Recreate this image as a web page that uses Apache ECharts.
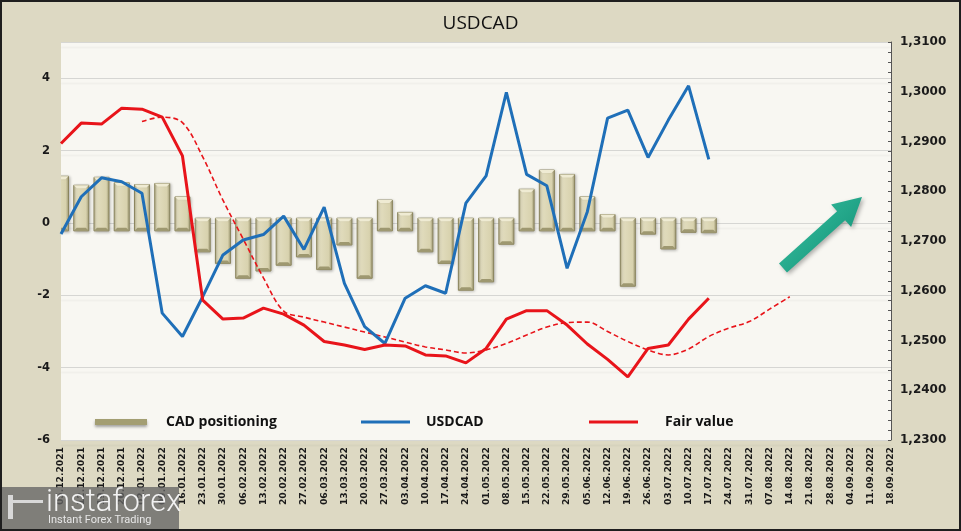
<!DOCTYPE html>
<html><head><meta charset="utf-8">
<script src="https://cdn.jsdelivr.net/npm/echarts@6/dist/echarts.min.js"></script>
<style>html,body{margin:0;padding:0;background:#ddd9c3;}#c{width:961px;height:531px;}</style>
</head><body><div id="c"></div>
<script>
const categories = ['05.12.2021','12.12.2021','19.12.2021','26.12.2021','02.01.2022','09.01.2022','16.01.2022','23.01.2022','30.01.2022','06.02.2022','13.02.2022','20.02.2022','27.02.2022','06.03.2022','13.03.2022','20.03.2022','27.03.2022','03.04.2022','10.04.2022','17.04.2022','24.04.2022','01.05.2022','08.05.2022','15.05.2022','22.05.2022','29.05.2022','05.06.2022','12.06.2022','19.06.2022','26.06.2022','03.07.2022','10.07.2022','17.07.2022','24.07.2022','31.07.2022','07.08.2022','14.08.2022','21.08.2022','28.08.2022','04.09.2022','11.09.2022','18.09.2022'];
const cadPositioning = [1.29,1.04,1.26,1.11,1.06,1.09,0.72,-0.80,-1.12,-1.53,-1.33,-1.17,-0.94,-1.29,-0.61,-1.53,0.63,0.29,-0.80,-1.12,-1.86,-1.63,-0.59,0.93,1.46,1.34,0.72,0.23,-1.75,-0.31,-0.72,-0.26,-0.27];
const usdcad = [1.2714,1.2789,1.2827,1.2819,1.2796,1.2555,1.2508,1.2588,1.2672,1.2702,1.2713,1.2750,1.2683,1.2768,1.2615,1.2528,1.2494,1.2585,1.2610,1.2595,1.2776,1.2831,1.2999,1.2834,1.2811,1.2645,1.2759,1.2947,1.2963,1.2868,1.2943,1.3012,1.2864];
const fairValue = [1.2896,1.2937,1.2935,1.2967,1.2965,1.2949,1.2871,1.2581,1.2543,1.2545,1.2565,1.2553,1.2531,1.2498,1.2491,1.2482,1.2491,1.2489,1.2471,1.2469,1.2455,1.2484,1.2543,1.2560,1.2560,1.2531,1.2493,1.2462,1.2427,1.2484,1.2491,1.2543,1.2585];
const fairValueTrend = [null,null,null,null,1.2940,1.2949,1.2938,1.2869,1.2782,1.2704,1.2626,1.2559,1.2547,1.2537,1.2527,1.2517,1.2507,1.2497,1.2487,1.2481,1.2475,1.2481,1.2494,1.2511,1.2527,1.2536,1.2537,1.2518,1.2498,1.2481,1.2471,1.2483,1.2508,1.2525,1.2538,1.2563,1.2588];
const leftTicks = {min:-6, max:5, interval:2};
const rightTicks = {min:1.23, max:1.31, interval:0.01};

const chart = echarts.init(document.getElementById('c'), null, {renderer:'canvas'});
const barGrad = new echarts.graphic.LinearGradient(0,0,1,0,[
  {offset:0,color:'#bcb58f'},{offset:0.18,color:'#e2ddbf'},{offset:0.8,color:'#d8d2ae'},{offset:1,color:'#9f9972'}]);
const labelFont = 'DejaVu Sans';
const legendText = {fontFamily:'Open Sans', fontWeight:'bold', fontSize:14, color:'#111'};

chart.setOption({
  backgroundColor:'#ddd9c3',
  animation:false,
  title:{text:'USDCAD', left:'center', top:9, textStyle:{fontFamily:'Open Sans', fontWeight:'normal', fontSize:19, color:'#111'}},
  grid:{left:61, right:70, top:42, bottom:91, show:true, backgroundColor:'#f8f7f2', borderWidth:0},
  legend:[
    {data:['CAD positioning'], left:90, top:410, icon:'rect', itemWidth:52, itemHeight:6, itemStyle:{color:'#a39e72', shadowColor:'rgba(0,0,0,0.35)', shadowBlur:3, shadowOffsetY:2}, textStyle:Object.assign({padding:[0,0,0,14]},legendText)},
    {data:['USDCAD'], left:356, top:410, icon:'rect', itemWidth:49, itemHeight:3, textStyle:Object.assign({padding:[0,0,0,11]},legendText)},
    {data:['Fair value'], left:584, top:410, icon:'rect', itemWidth:49, itemHeight:3, textStyle:Object.assign({padding:[0,0,0,22]},legendText)}
  ],
  xAxis:{type:'category', data:categories, boundaryGap:false,
    axisLine:{show:false}, axisTick:{show:false},
    axisLabel:{interval:0, rotate:90, margin:7, fontFamily:labelFont, fontWeight:'bold', fontSize:9.2, color:'#1a1a1a'}},
  yAxis:[
    {type:'value', min:leftTicks.min, max:leftTicks.max, interval:leftTicks.interval,
      axisLine:{show:false}, axisTick:{show:false},
      axisLabel:{showMaxLabel:false, margin:11, fontFamily:labelFont, fontWeight:'bold', fontSize:11.5, color:'#1a1a1a'},
      splitLine:{lineStyle:{color:'#d6d6d3', width:1, shadowColor:'rgba(0,0,0,0.06)', shadowBlur:2, shadowOffsetY:5}}},
    {type:'value', position:'right', min:rightTicks.min, max:rightTicks.max, interval:rightTicks.interval,
      axisLine:{show:true, lineStyle:{color:'#555', width:1}},
      axisTick:{show:true, inside:true, length:3, lineStyle:{color:'#555'}},
      minorTick:{show:true, splitNumber:5, length:3, lineStyle:{color:'#555'}},
      splitLine:{show:false},
      axisLabel:{margin:9, fontFamily:labelFont, fontWeight:'bold', fontSize:12, color:'#1a1a1a', formatter:v=>v.toFixed(4).replace('.',',')}}
  ],
  series:[
    {name:'CAD positioning', type:'custom', yAxisIndex:0, clip:true, z:2,
      itemStyle:{color:'#a39e72'},
      data:cadPositioning.map((v,i)=>[i,v]), encode:{x:0,y:1},
      renderItem:function(params, api){
        const i = api.value(0), v = api.value(1);
        const base = v >= 0 ? -0.22 : 0.13;
        const p1 = api.coord([i, v]), p0 = api.coord([i, base]);
        const w = 15, x = p1[0]-w/2, y = Math.min(p0[1],p1[1]), h = Math.abs(p0[1]-p1[1]);
        return {type:'group', children:[
          {type:'rect', shape:{x:x, y:y, width:w, height:h}, style:{fill:barGrad, stroke:'#8a845d', lineWidth:1, shadowColor:'rgba(0,0,0,0.25)', shadowBlur:3, shadowOffsetX:1, shadowOffsetY:1}},
          {type:'polygon', shape:{points:[[x,y],[x+w,y],[x+w-3,y+3],[x+3,y+3]]}, style:{fill:'#efebd3'}},
          {type:'polygon', shape:{points:[[x,y+h],[x+w,y+h],[x+w-3,y+h-3],[x+3,y+h-3]]}, style:{fill:'#9e9870'}}
        ]};
      }},
    {name:'USDCAD', type:'line', yAxisIndex:1, data:usdcad, symbol:'none', z:4,
      lineStyle:{color:'#1f6fb8', width:3}, itemStyle:{color:'#1f6fb8'}},
    {name:'Fair value', type:'line', yAxisIndex:1, data:fairValue, symbol:'none', z:5,
      lineStyle:{color:'#e8141a', width:3}, itemStyle:{color:'#e8141a'}},
    {name:'Fair value trend', type:'line', yAxisIndex:1, data:fairValueTrend, symbol:'none', smooth:0.35, z:3,
      lineStyle:{color:'#e8141a', width:1.6, type:[5,3]}, itemStyle:{color:'#e8141a'}}
  ],
  graphic:[
    {type:'polygon', z:100, shape:{points:[[779,263.5],[837.1,211.3],[831.1,204.6],[862,197],[851.1,227],[845.1,220.3],[787,272.5]]},
      style:{fill:new echarts.graphic.LinearGradient(0,0,1,1,[{offset:0,color:'#3cc4a4'},{offset:1,color:'#0e8c72'}]), shadowColor:'rgba(0,0,0,0.3)', shadowBlur:4, shadowOffsetX:2, shadowOffsetY:2}},
    {type:'rect', z:100, shape:{x:0, y:487, width:179, height:44}, style:{fill:'rgba(100,100,100,0.78)'}},
    {type:'rect', z:101, shape:{x:8, y:495, width:5, height:24}, style:{fill:'#d8d8d8'}},
    {type:'rect', z:101, shape:{x:13, y:500, width:30, height:3}, style:{fill:'#d8d8d8'}},
    {type:'text', z:101, x:46, y:488, style:{text:'instaforex', fill:'#f2f2f2', font:'300 31px Roboto'}},
    {type:'text', z:101, x:48, y:515, style:{text:'Instant Forex Trading', fill:'#e6e6e6', font:'11px Roboto'}},
    {type:'rect', z:102, shape:{x:1, y:1, width:959, height:529}, style:{fill:null, stroke:'#1e1e1e', lineWidth:2}}
  ]
});
</script></body></html>
